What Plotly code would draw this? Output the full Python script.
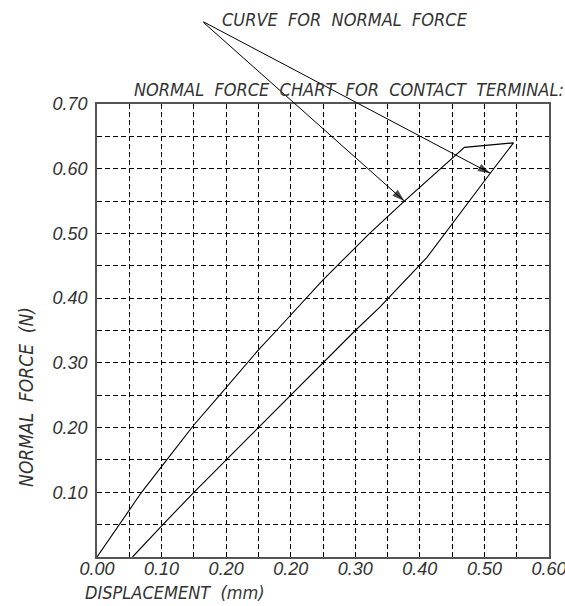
import plotly.graph_objects as go

# ---- data ----
# loading curve (left branch), x in chart grid units (0.05 per grid column)
load_x = [0.0, 0.034, 0.069, 0.108, 0.150, 0.190, 0.250, 0.278, 0.349, 0.381, 0.423, 0.476, 0.569]
load_y = [0.0, 0.050, 0.100, 0.150, 0.204, 0.250, 0.320, 0.350, 0.427, 0.459, 0.501, 0.550, 0.633]
# unloading curve (right branch), from peak back down
unload_x = [0.645, 0.609, 0.511, 0.438, 0.400, 0.350, 0.250, 0.150, 0.102, 0.055]
unload_y = [0.640, 0.593, 0.463, 0.386, 0.350, 0.300, 0.200, 0.100, 0.050, 0.000]

x_tick_vals = [0.0, 0.1, 0.2, 0.3, 0.4, 0.5, 0.6, 0.7]
x_tick_text = ["0.00", "0.10", "0.20", "0.20", "0.30", "0.40", "0.50", "0.60"]
y_tick_vals = [0.1, 0.2, 0.3, 0.4, 0.5, 0.6, 0.7]
y_tick_text = ["0.10", "0.20", "0.30", "0.40", "0.50", "0.60", "0.70"]
grid_step = 0.05

title_text = "NORMAL\u00a0\u00a0FORCE\u00a0\u00a0CHART\u00a0\u00a0FOR\u00a0\u00a0CONTACT\u00a0\u00a0TERMINAL:"
label_text = "CURVE\u00a0\u00a0FOR\u00a0\u00a0NORMAL\u00a0\u00a0FORCE"
x_title = "DISPLACEMENT\u00a0\u00a0(mm)"
y_title = "NORMAL\u00a0\u00a0FORCE\u00a0\u00a0(N)"

# leader vertex (in axis units, above plot) and tips taken from the curves
leader_vertex = (0.1624, 0.8283)
leader_stub_x = 0.1856
tips = [(load_x[11], load_y[11]), (unload_x[1], unload_y[1])]

FONT_TXT = "Liberation Sans Narrow, DejaVu Sans Condensed, Liberation Sans, Arial"
FONT_NUM = "Liberation Sans, Arial"
TXT_COLOR = "#333333"

fig = go.Figure()

fig.add_trace(go.Scatter(
    x=load_x + unload_x, y=load_y + unload_y, mode="lines",
    line=dict(color="black", width=1.1), hoverinfo="skip", showlegend=False,
))

# arrow heads at the tips, oriented along the leader lines
for tx, ty in tips:
    fig.add_trace(go.Scatter(
        x=[leader_vertex[0], tx], y=[leader_vertex[1], ty],
        mode="markers",
        marker=dict(symbol="arrow", size=[0, 13], angleref="previous",
                    color="black", line=dict(width=0)),
        cliponaxis=False, hoverinfo="skip", showlegend=False,
    ))
    # leader line (annotation so it is not clipped by the plot area)
    fig.add_annotation(x=tx, y=ty, ax=leader_vertex[0], ay=leader_vertex[1],
                       xref="x", yref="y", axref="x", ayref="y", text="",
                       showarrow=True, arrowhead=0, arrowwidth=1, arrowcolor="black",
                       standoff=0, startstandoff=0)

# short horizontal stub in front of the label
fig.add_annotation(x=leader_stub_x, y=leader_vertex[1], ax=leader_vertex[0], ay=leader_vertex[1],
                   xref="x", yref="y", axref="x", ayref="y", text="",
                   showarrow=True, arrowhead=0, arrowwidth=1, arrowcolor="black")

axis_common = dict(
    range=[0, 0.7], showgrid=True, gridcolor="black", gridwidth=1, griddash="5px,3px",
    showline=True, linecolor="#555555", linewidth=1.5, mirror=True,
    zeroline=False, ticks="", fixedrange=True,
)

fig.update_xaxes(
    **axis_common,
    tickmode="array", tickvals=x_tick_vals, ticktext=x_tick_text,
    minor=dict(dtick=grid_step, showgrid=True, gridcolor="black", gridwidth=1, griddash="5px,3px"),
    tickfont=dict(family=FONT_NUM, size=18, color=TXT_COLOR, style="italic"),
    ticklabelstandoff=-5, ticklabeloverflow="allow",
)
fig.update_yaxes(
    **axis_common,
    tickmode="array", tickvals=y_tick_vals, ticktext=y_tick_text,
    minor=dict(dtick=grid_step, showgrid=True, gridcolor="black", gridwidth=1, griddash="5px,3px"),
    tickfont=dict(family=FONT_NUM, size=18, color=TXT_COLOR, style="italic"),
    ticklabelstandoff=4,
)

txt_font = dict(family=FONT_TXT, size=18, color=TXT_COLOR, style="italic")
fig.add_annotation(text=title_text, xref="paper", yref="paper", x=0.0774, y=1.0325,
                   xanchor="left", yanchor="middle", showarrow=False, font=txt_font)
fig.add_annotation(text=label_text, xref="paper", yref="paper", x=0.272, y=1.187,
                   xanchor="left", yanchor="middle", showarrow=False, font=txt_font)
fig.add_annotation(text=x_title, xref="paper", yref="paper", x=0.1725, y=-0.078,
                   xanchor="center", yanchor="middle", showarrow=False, font=txt_font)
fig.add_annotation(text=y_title, xref="paper", yref="paper", x=-0.157, y=0.3535,
                   xanchor="center", yanchor="middle", showarrow=False, textangle=-90,
                   font=dict(family=FONT_TXT, size=19, color=TXT_COLOR, style="italic"))

fig.update_layout(
    width=565, height=606,
    margin=dict(l=97, r=16, t=104, b=49, autoexpand=False),
    paper_bgcolor="white", plot_bgcolor="white",
    showlegend=False,
)

fig.write_html("out.html", config={"displayModeBar": False},
               post_script="document.body.style.margin='0';")
